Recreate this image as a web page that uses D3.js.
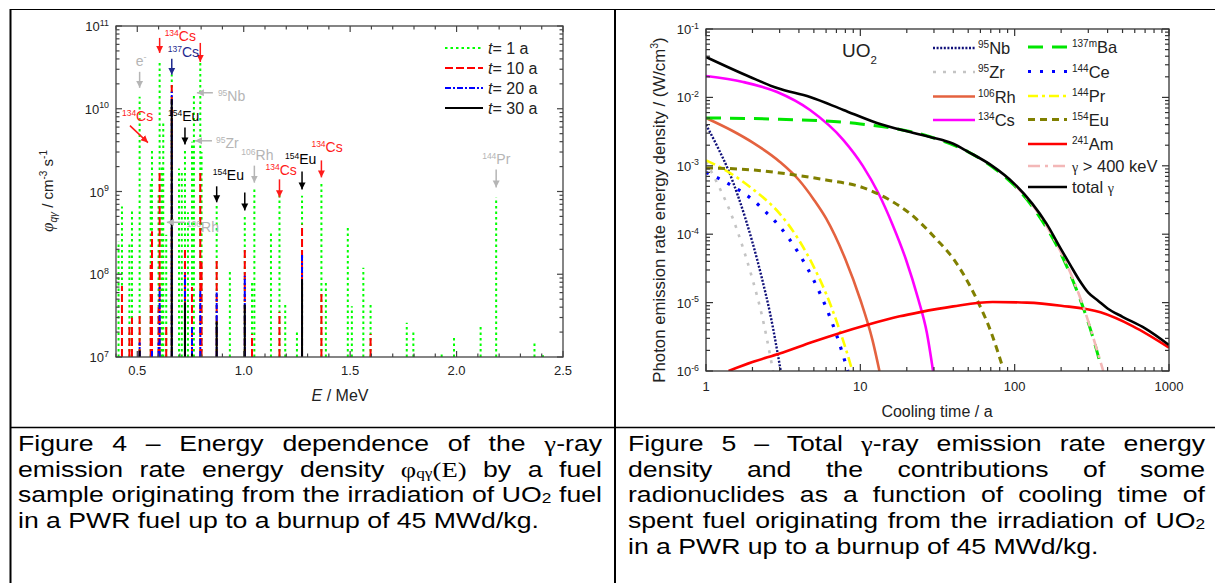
<!DOCTYPE html>
<html>
<head>
<meta charset="utf-8">
<script src="https://cdn.jsdelivr.net/npm/d3@7"></script>
<style>
  body { margin: 0; background: #fff; }
  #page { position: relative; width: 1215px; height: 583px; overflow: hidden; font-family: "Liberation Sans", Arial, sans-serif; }
  #page svg { position: absolute; left: 0; top: 0; }
  .cap { position: absolute; transform-origin: 0 0; font-size: 22px; line-height: 25.7px; color: #000; }
  .cap div { text-align: justify; text-align-last: justify; }
  .cap div.last { text-align-last: left; }
  .cap sub { font-size: 0.65em; vertical-align: -0.1em; line-height: 0; }
  .math { font-family: "Liberation Serif", "DejaVu Serif", serif; }
</style>
</head>
<body>
<div id="page"></div>
<script>
// ---------- Figure 4 : gamma line spectrum (E in MeV, phi in cm^-3 s^-1) ----------
var lineE  = [0.412, 0.428, 0.463, 0.475, 0.511, 0.563, 0.569, 0.600, 0.605, 0.616, 0.622, 0.636, 0.662, 0.696, 0.709,
              0.724, 0.738, 0.757, 0.766, 0.796, 0.802, 0.873, 0.935, 1.005, 1.039, 1.050, 1.128, 1.168, 1.195, 1.250,
              1.274, 1.365, 1.386, 1.489, 1.508, 1.562, 1.596, 1.766, 1.797, 1.930, 1.988, 2.113, 2.186, 2.366, 2.406];
var phi1a  = [2.5e8, 6.6e8, 2.3e8, 6e8, 1.4e10, 1.3e9, 3.2e9, 9e8, 3.7e10, 2e9, 7e9, 3e8, 2.6e10, 1.9e9, 1.7e9,
              3.2e9, 5.6e8, 4e9, 1.5e10, 3.7e10, 3e9, 7e8, 1.15e8, 5.3e8, 8e7, 1.1e9, 3.2e8, 9e8, 4.4e7, 2e7,
              8.9e8, 1.3e9, 8.3e7, 3.7e8, 4.1e7, 1.2e8, 4.3e7, 2.6e7, 2e7, 1.1e7, 1.8e7, 2.3e7, 8.5e8, 1.5e7, 1.05e7];
var phi10a = [0, 7.2e7, 2.5e7, 3e7, 3.2e7, 1.3e8, 3.3e8, 4e7, 1.7e9, 0, 0, 2.5e7, 2.1e10, 0, 0,
              2.1e8, 0, 7e7, 0, 1.7e9, 1.4e8, 1.45e8, 0, 2.1e8, 1.9e7, 0, 0, 3.5e7, 0, 0,
              4e8, 6e7, 0, 0, 0, 0, 1.9e7, 0, 0, 0, 0, 0, 0, 0, 0];
var phi20a = [0, 0, 0, 0, 1.5e7, 0, 1.2e7, 1.5e7, 7e7, 0, 0, 0, 1.6e10, 0, 0,
              1.05e8, 0, 2.3e7, 0, 6.3e7, 0, 6e7, 0, 9.6e7, 0, 0, 0, 0, 0, 0,
              1.8e8, 0, 0, 0, 0, 0, 0, 0, 0, 0, 0, 0, 0, 0, 0];
var phi30a = [0, 0, 0, 0, 1.2e7, 0, 0, 0, 0, 0, 0, 0, 1.3e10, 0, 0,
              4.6e7, 0, 1.1e7, 0, 0, 0, 2.7e7, 0, 4.3e7, 0, 0, 0, 0, 0, 0,
              8.7e7, 0, 0, 0, 0, 0, 0, 0, 0, 0, 0, 0, 0, 0, 0];
var timeLabels = ["1", "10", "20", "30"];
var eTicks = [0.5, 1.0, 1.5, 2.0, 2.5];

// ---------- Figure 5 : emission rate energy density vs cooling time ----------
var nb95T = [1, 1.2, 1.4, 1.6, 1.8, 2.0, 2.3, 2.6, 3.05];
var nb95V = [4e-3, 1.8e-3, 8.5e-4, 3.8e-4, 1.7e-4, 7.6e-5, 2.3e-5, 7e-6, 1e-6];
var zr95T = [1, 1.2, 1.4, 1.6, 1.8, 2.0, 2.3, 2.72];
var zr95V = [1.15e-3, 5.2e-4, 2.45e-4, 1.1e-4, 4.9e-5, 2.2e-5, 6.6e-6, 1e-6];
var rh106T = [1, 1.5, 2, 3, 4, 5, 6, 8, 10, 12, 13.3];
var rh106V = [5e-3, 3.2e-3, 2.2e-3, 1.15e-3, 6.2e-4, 3.2e-4, 1.7e-4, 4.3e-5, 1.1e-5, 2.8e-6, 1e-6];
var cs134T = [1, 1.74, 2.89, 4.72, 7.77, 10.4, 13.0, 16.3, 19.8, 23.6, 27.0, 29.6];
var cs134V = [0.0206, 0.0168, 0.012, 0.00655, 0.00238, 9.9e-4, 4.1e-4, 1.32e-4, 4.2e-5, 1.17e-5, 3.6e-6, 1e-6];
var ba137mT = [1, 3, 10, 30, 50, 70, 100, 130, 160, 200, 250, 300, 340, 363];
var ba137mV = [5e-3, 4.8e-3, 4.1e-3, 2.55e-3, 1.6e-3, 1e-3, 5.1e-4, 2.55e-4, 1.27e-4, 5.1e-5, 1.6e-5, 5.1e-6, 2e-6, 1.15e-6];
var ce144T = [1, 1.2, 1.5, 2, 2.5, 3, 4, 5, 6, 7, 8.3];
var ce144V = [8e-4, 6.6e-4, 5e-4, 3.2e-4, 2e-4, 1.3e-4, 5.2e-5, 2.1e-5, 8.5e-6, 3.4e-6, 1e-6];
var pr144T = [1, 1.4, 2, 3, 4, 5, 6, 7, 8, 9];
var pr144V = [1.2e-3, 8.1e-4, 4.6e-4, 2e-4, 8.2e-5, 3.3e-5, 1.35e-5, 5.4e-6, 2.2e-6, 9e-7];
var eu154T = [1, 2, 3.66, 6, 10.4, 15, 21, 31, 40, 57, 70, 84];
var eu154V = [9.3e-4, 8.7e-4, 7.4e-4, 6.2e-4, 4.8e-4, 3.3e-4, 2e-4, 8.5e-5, 4.4e-5, 1.1e-5, 3.8e-6, 1.1e-6];
var am241T = [1.4, 2, 3, 5, 7.4, 11, 18, 24, 40, 72, 120, 200, 360, 585, 1000];
var am241V = [1e-6, 1.35e-6, 1.8e-6, 2.7e-6, 3.6e-6, 4.7e-6, 6.3e-6, 7.2e-6, 8.8e-6, 1.02e-5, 1e-5, 9e-6, 7.2e-6, 4.5e-6, 2.2e-6];
var hiGammaT = [100, 130, 160, 200, 250, 300, 340, 375];
var hiGammaV = [5.3e-4, 2.7e-4, 1.35e-4, 5.4e-5, 1.7e-5, 5.3e-6, 2.1e-6, 1e-6];
var totalT = [1, 1.93, 2.89, 4.72, 7.77, 12.8, 21, 28.3, 40, 50, 70, 100, 130, 160, 200, 230, 260, 300, 350, 400, 500, 700, 1000];
var totalV = [0.039, 0.0199, 0.0137, 0.0101, 0.00655, 0.00423, 0.00312, 0.00264, 0.0021, 0.0016, 0.00103,
              5.4e-4, 2.8e-4, 1.45e-4, 6e-5, 3.5e-5, 2.2e-5, 1.4e-5, 1.05e-5, 8.2e-6, 6.2e-6, 4.2e-6, 2.4e-6];
var coolTicks = [1, 10, 100, 1000];

// captions
var fig4Caption = [
  "Figure 4 – Energy dependence of the <span class='math'>γ</span>-ray",
  "emission rate energy density <span class='math'>φ<sub>qγ</sub>(E)</span> by a fuel",
  "sample originating from the irradiation of UO<sub>2</sub> fuel",
  "in a PWR fuel up to a burnup of 45 MWd/kg."
];
var fig5Caption = [
  "Figure 5 – Total <span class='math'>γ</span>-ray emission rate energy",
  "density and the contributions of some",
  "radionuclides as a function of cooling time of",
  "spent fuel originating from the irradiation of UO<sub>2</sub>",
  "in a PWR up to a burnup of 45 MWd/kg."
];

var page = d3.select("#page");
var svg = page.append("svg").attr("width", 1215).attr("height", 583);
var defs = svg.append("defs");

// table lines
var grid = svg.append("g").attr("stroke", "#000").attr("stroke-width", 1.5);
grid.append("line").attr("x1", 10).attr("x2", 1215).attr("y1", 9.5).attr("y2", 9.5).attr("stroke-width", 1.2);
grid.append("line").attr("x1", 10).attr("x2", 1215).attr("y1", 427.5).attr("y2", 427.5);
grid.append("line").attr("x1", 10.5).attr("x2", 10.5).attr("y1", 9).attr("y2", 583).attr("stroke-width", 2);
grid.append("line").attr("x1", 615).attr("x2", 615).attr("y1", 9).attr("y2", 583).attr("stroke-width", 2);

function supLabel(g, x, y, base, exp, size, anchor) {
  var t = g.append("text").attr("x", x).attr("y", y).attr("font-size", size).attr("text-anchor", anchor || "end");
  t.append("tspan").text(base);
  t.append("tspan").attr("dy", -size * 0.42).attr("font-size", size * 0.68).text(exp);
  return t;
}

function logMinor(lo, hi) {
  var out = [];
  for (var e = lo; e < hi; e++) for (var m = 2; m <= 9; m++) out.push(m * Math.pow(10, e));
  return out;
}

// =================== Figure 4 ===================
var x4 = d3.scaleLinear().domain([0.4, 2.5]).range([116, 563]);
var y4 = d3.scaleLog().domain([1e7, 1e11]).range([357, 26]);
var f4 = svg.append("g").attr("fill", "#222");

defs.append("clipPath").attr("id", "clip4").append("rect")
  .attr("x", 116).attr("y", 26).attr("width", 447).attr("height", 331);

var seriesStyle4 = [
  { vals: phi1a,  color: "#00ff00", dash: "2.5,3",     w: 2 },
  { vals: phi10a, color: "#ff0000", dash: "8,3",       w: 2 },
  { vals: phi20a, color: "#0000ff", dash: "6,2,2,2",   w: 2 },
  { vals: phi30a, color: "#000000", dash: null,        w: 2 }
];
var lines4 = f4.append("g").attr("clip-path", "url(#clip4)");
seriesStyle4.forEach(function (s) {
  var pts = lineE.map(function (e, i) { return { e: e, v: s.vals[i] }; }).filter(function (d) { return d.v > 0; });
  lines4.append("g").selectAll("line").data(pts).join("line")
    .attr("x1", function (d) { return x4(d.e); }).attr("x2", function (d) { return x4(d.e); })
    .attr("y1", y4(1e7)).attr("y2", function (d) { return y4(d.v); })
    .attr("stroke", s.color).attr("stroke-width", s.w)
    .attr("stroke-dasharray", s.dash);
});

// frame and ticks
f4.append("rect").attr("x", 116).attr("y", 26).attr("width", 447).attr("height", 331)
  .attr("fill", "none").attr("stroke", "#444").attr("stroke-width", 1.3);
var tk4 = f4.append("g").attr("stroke", "#444").attr("stroke-width", 1.2);
var eMinor = d3.range(4, 26).map(function (d) { return d / 10; });
eMinor.forEach(function (e) {
  var maj = eTicks.some(function (m) { return Math.abs(m - e) < 1e-6; });
  var L = maj ? 6 : 3.5;
  tk4.append("line").attr("x1", x4(e)).attr("x2", x4(e)).attr("y1", 357).attr("y2", 357 - L);
  tk4.append("line").attr("x1", x4(e)).attr("x2", x4(e)).attr("y1", 26).attr("y2", 26 + L);
});
[1e7, 1e8, 1e9, 1e10, 1e11].forEach(function (v) {
  tk4.append("line").attr("x1", 116).attr("x2", 122).attr("y1", y4(v)).attr("y2", y4(v));
  tk4.append("line").attr("x1", 563).attr("x2", 557).attr("y1", y4(v)).attr("y2", y4(v));
});
logMinor(7, 11).forEach(function (v) {
  tk4.append("line").attr("x1", 116).attr("x2", 119.5).attr("y1", y4(v)).attr("y2", y4(v));
  tk4.append("line").attr("x1", 563).attr("x2", 559.5).attr("y1", y4(v)).attr("y2", y4(v));
});
eTicks.forEach(function (e) {
  f4.append("text").attr("x", x4(e)).attr("y", 375).attr("text-anchor", "middle").attr("font-size", 13).text(e.toFixed(1));
});
[7, 8, 9, 10, 11].forEach(function (p) {
  supLabel(f4, 109, y4(Math.pow(10, p)) + 5, "10", String(p), 13, "end");
});
// axis titles
var xt4 = f4.append("text").attr("x", 340).attr("y", 401).attr("text-anchor", "middle").attr("font-size", 16);
xt4.append("tspan").attr("font-style", "italic").text("E");
xt4.append("tspan").text(" / MeV");
var yt4 = f4.append("text").attr("transform", "translate(53,191) rotate(-90)").attr("text-anchor", "middle").attr("font-size", 15);
yt4.append("tspan").attr("font-style", "italic").attr("font-family", "Liberation Serif, serif").attr("font-size", 17).text("φ");
yt4.append("tspan").attr("font-style", "italic").attr("font-size", 10).attr("dy", 4).text("qγ");
yt4.append("tspan").attr("dy", -4).text(" / cm");
yt4.append("tspan").attr("font-size", 10).attr("dy", -6).text("-3");
yt4.append("tspan").attr("dy", 6).text(" s");
yt4.append("tspan").attr("font-size", 10).attr("dy", -6).text("-1");

// legend
seriesStyle4.forEach(function (s, i) {
  var ly = 48 + i * 20;
  f4.append("line").attr("x1", 445).attr("x2", 483).attr("y1", ly).attr("y2", ly)
    .attr("stroke", s.color).attr("stroke-width", 2).attr("stroke-dasharray", s.dash);
  var t = f4.append("text").attr("x", 488).attr("y", ly + 5.5).attr("font-size", 16);
  t.append("tspan").attr("font-style", "italic").text("t");
  t.append("tspan").text("= " + timeLabels[i] + " a");
});

// annotations: tip in data units, tail offset and label offset in px
var noteColors = { red: "#ff1a1a", navy: "#1f2a8f", black: "#000", gray: "#b5b5b5" };
Object.keys(noteColors).forEach(function (k) {
  defs.append("marker").attr("id", "arr-" + k).attr("viewBox", "0 0 10 10").attr("refX", 10).attr("refY", 5)
    .attr("markerWidth", 7).attr("markerHeight", 8).attr("markerUnits", "userSpaceOnUse").attr("orient", "auto")
    .append("path").attr("d", "M0,0 L10,5 L0,10 Z").attr("fill", noteColors[k]);
});
var notes = [
  { e: 0.511, v: 1.79e10, tx: 0, ty: -16, lx: -4, ly: -22, m: "", el: "e", sup2: "-", c: "gray" },
  { e: 0.605, v: 4.73e10, tx: 0, ty: -15, lx: 5, ly: -12, m: "134", el: "Cs", c: "red" },
  { e: 0.796, v: 3.68e10, tx: 0, ty: -19, c: "red" },
  { e: 0.662, v: 2.57e10, tx: 0, ty: -16, lx: -4, ly: -18, m: "137", el: "Cs", c: "navy" },
  { e: 0.550, v: 3.9e9, tx: -18, ty: -17, lx: -26, ly: -22, m: "134", el: "Cs", c: "red" },
  { e: 0.724, v: 3.7e9, tx: 0, ty: -17, lx: -17, ly: -23, m: "154", el: "Eu", c: "black" },
  { e: 0.780, v: 1.56e10, tx: 16, ty: 0, lx: 21, ly: 8, m: "95", el: "Nb", c: "gray" },
  { e: 0.771, v: 4.1e9, tx: 17, ty: 0, lx: 21, ly: 7, m: "95", el: "Zr", c: "gray" },
  { e: 1.050, v: 1.28e9, tx: 0, ty: -17, lx: -13, ly: -23, m: "106", el: "Rh", c: "gray" },
  { e: 0.873, v: 7.4e8, tx: 0, ty: -16, lx: -4, ly: -22, m: "154", el: "Eu", c: "black" },
  { e: 1.005, v: 5.9e8, tx: 0, ty: -18, c: "black" },
  { e: 1.168, v: 8.5e8, tx: 0, ty: -18, lx: -14, ly: -22, m: "134", el: "Cs", c: "red" },
  { e: 1.274, v: 1.06e9, tx: 0, ty: -18, lx: -17, ly: -25, m: "154", el: "Eu", c: "black" },
  { e: 1.365, v: 1.48e9, tx: 0, ty: -17, lx: -10, ly: -25, m: "134", el: "Cs", c: "red" },
  { e: 2.186, v: 1.12e9, tx: 0, ty: -18, lx: -14, ly: -23, m: "144", el: "Pr", c: "gray" },
  { e: 0.639, v: 4.24e8, tx: 18, ty: 0, lx: 20, ly: 10, m: "106", el: "Rh", c: "gray" }
];
var ann = f4.append("g");
notes.forEach(function (n) {
  var px = x4(n.e), py = y4(n.v), col = noteColors[n.c];
  ann.append("line").attr("x1", px + n.tx).attr("y1", py + n.ty).attr("x2", px).attr("y2", py)
    .attr("stroke", col).attr("stroke-width", 1.5).attr("marker-end", "url(#arr-" + n.c + ")");
  if (n.el) {
    var t = ann.append("text").attr("x", px + n.lx).attr("y", py + n.ly).attr("fill", col).attr("font-size", 14);
    if (n.m) {
      t.append("tspan").attr("font-size", 8.5).attr("dy", -5).text(n.m);
      t.append("tspan").attr("dy", 5).text(n.el);
    } else {
      t.append("tspan").text(n.el);
      t.append("tspan").attr("font-size", 9).attr("dy", -6).text(n.sup2);
    }
  }
});

// =================== Figure 5 ===================
var x5 = d3.scaleLog().domain([1, 1000]).range([706, 1169]);
var y5 = d3.scaleLog().domain([1e-6, 1e-1]).range([371, 29]);
var f5 = svg.append("g").attr("fill", "#222");
defs.append("clipPath").attr("id", "clip5").append("rect")
  .attr("x", 706).attr("y", 29).attr("width", 463).attr("height", 342);

var curves = [
  { t: nb95T,   v: nb95V,   color: "#10107a", dash: "2,1.6",     w: 2.4, m: "95",   el: "Nb" },
  { t: zr95T,   v: zr95V,   color: "#c4c4c4", dash: "3,7",       w: 2.6, m: "95",   el: "Zr" },
  { t: rh106T,  v: rh106V,  color: "#e4623f", dash: null,        w: 2.6, m: "106",  el: "Rh" },
  { t: cs134T,  v: cs134V,  color: "#ff00ff", dash: null,        w: 2.6, m: "134",  el: "Cs" },
  { t: ba137mT, v: ba137mV, color: "#00e600", dash: "15,9",      w: 3,   m: "137m", el: "Ba" },
  { t: ce144T,  v: ce144V,  color: "#0000ff", dash: "3,9",       w: 3.2, m: "144",  el: "Ce" },
  { t: pr144T,  v: pr144V,  color: "#ffff00", dash: "10,4,3,4",  w: 2.6, m: "144",  el: "Pr" },
  { t: eu154T,  v: eu154V,  color: "#808000", dash: "7,5",       w: 3,   m: "154",  el: "Eu" },
  { t: am241T,  v: am241V,  color: "#ff0000", dash: null,        w: 2.6, m: "241",  el: "Am" },
  { t: hiGammaT, v: hiGammaV, color: "#f3b7b7", dash: "12,5,3,5", w: 2.6, label: "γ > 400 keV" },
  { t: totalT,  v: totalV,  color: "#000000", dash: null,        w: 2.6, label: "total γ" }
];
var lineGen = d3.line().x(function (d) { return x5(d[0]); }).y(function (d) { return y5(d[1]); }).curve(d3.curveMonotoneX);
var plot5 = f5.append("g").attr("clip-path", "url(#clip5)");
curves.forEach(function (c) {
  plot5.append("path").datum(d3.zip(c.t, c.v)).attr("d", lineGen)
    .attr("fill", "none").attr("stroke", c.color).attr("stroke-width", c.w).attr("stroke-dasharray", c.dash);
});

f5.append("rect").attr("x", 706).attr("y", 29).attr("width", 463).attr("height", 342)
  .attr("fill", "none").attr("stroke", "#333").attr("stroke-width", 1.3);
var tk5 = f5.append("g").attr("stroke", "#333").attr("stroke-width", 1.2);
coolTicks.forEach(function (t) {
  tk5.append("line").attr("x1", x5(t)).attr("x2", x5(t)).attr("y1", 371).attr("y2", 364);
  tk5.append("line").attr("x1", x5(t)).attr("x2", x5(t)).attr("y1", 29).attr("y2", 36);
});
logMinor(0, 3).forEach(function (t) {
  tk5.append("line").attr("x1", x5(t)).attr("x2", x5(t)).attr("y1", 371).attr("y2", 367);
  tk5.append("line").attr("x1", x5(t)).attr("x2", x5(t)).attr("y1", 29).attr("y2", 33);
});
[-6, -5, -4, -3, -2, -1].forEach(function (p) {
  var v = Math.pow(10, p);
  tk5.append("line").attr("x1", 706).attr("x2", 713).attr("y1", y5(v)).attr("y2", y5(v));
  tk5.append("line").attr("x1", 1169).attr("x2", 1162).attr("y1", y5(v)).attr("y2", y5(v));
  supLabel(f5, 699, y5(v) + 5, "10", String(p), 13, "end");
});
logMinor(-6, -1).forEach(function (v) {
  tk5.append("line").attr("x1", 706).attr("x2", 710).attr("y1", y5(v)).attr("y2", y5(v));
  tk5.append("line").attr("x1", 1169).attr("x2", 1165).attr("y1", y5(v)).attr("y2", y5(v));
});
coolTicks.forEach(function (t) {
  f5.append("text").attr("x", x5(t)).attr("y", 391).attr("text-anchor", "middle").attr("font-size", 13).text(String(t));
});
f5.append("text").attr("x", 937).attr("y", 417).attr("text-anchor", "middle").attr("font-size", 16).text("Cooling time / a");
var yt5 = f5.append("text").attr("transform", "translate(665,210) rotate(-90)").attr("text-anchor", "middle").attr("font-size", 16.8);
yt5.append("tspan").text("Photon emission rate energy density / (W/cm");
yt5.append("tspan").attr("font-size", 10.5).attr("dy", -7).text("3");
yt5.append("tspan").attr("dy", 7).text(")");

var uo = f5.append("text").attr("x", 842).attr("y", 57).attr("font-size", 19);
uo.append("tspan").text("UO");
uo.append("tspan").attr("font-size", 11.5).attr("dy", 7).text("2");

// legend, two columns
var legRows = [
  [0, 48], [0, 72], [0, 96.5], [0, 120],
  [1, 47], [1, 71.5], [1, 96], [1, 119.5], [1, 144], [1, 166], [1, 187]
];
var legCols = [{ x1: 933, x2: 975, tx: 978 }, { x1: 1028, x2: 1067, tx: 1072 }];
curves.forEach(function (c, i) {
  var col = legCols[legRows[i][0]], ly = legRows[i][1];
  f5.append("line").attr("x1", col.x1).attr("x2", col.x2).attr("y1", ly).attr("y2", ly)
    .attr("stroke", c.color).attr("stroke-width", c.w).attr("stroke-dasharray", c.dash);
  var t = f5.append("text").attr("x", col.tx).attr("y", ly + 6).attr("font-size", 16.5);
  if (c.m) {
    t.append("tspan").attr("font-size", 10).attr("dy", -6).text(c.m);
    t.append("tspan").attr("dy", 6).text(c.el);
  } else if (c.label.indexOf("total") === 0) {
    t.append("tspan").text("total ");
    t.append("tspan").attr("font-family", "Liberation Serif, serif").attr("font-size", 14).text("γ");
  } else {
    t.append("tspan").attr("font-family", "Liberation Serif, serif").attr("font-size", 14).text("γ");
    t.append("tspan").text(" > 400 keV");
  }
});

// =================== captions ===================
var capScale = 1.21;
function caption(lines, left, width) {
  var box = page.append("div").attr("class", "cap")
    .style("left", left + "px").style("top", "431px")
    .style("width", (width / capScale) + "px")
    .style("transform", "scaleX(" + capScale + ")");
  box.selectAll("div").data(lines).join("div")
    .attr("class", function (d, i) { return i === lines.length - 1 ? "last" : null; })
    .html(function (d) { return d; });
}
caption(fig4Caption, 18, 584);
caption(fig5Caption, 628, 577);
</script>
</body>
</html>
